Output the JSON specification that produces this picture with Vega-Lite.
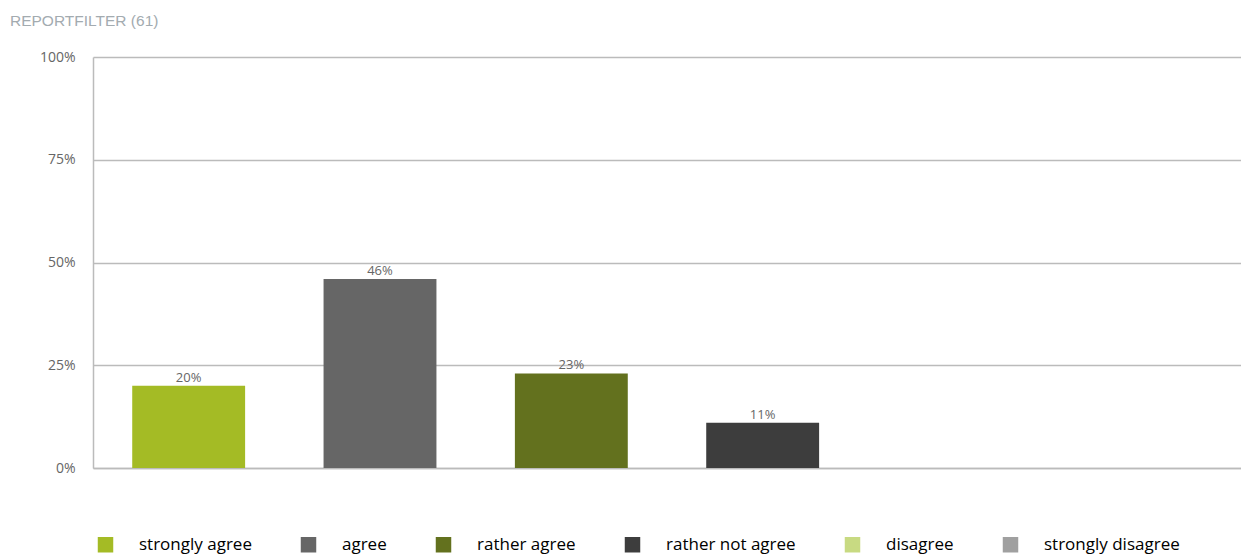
{
  "$schema": "https://vega.github.io/schema/vega-lite/v6.json",
  "width": 1148,
  "height": 411,
  "autosize": {"type": "none"},
  "padding": {"left": 93, "top": 57, "right": 0, "bottom": 91},
  "background": "white",
  "title": {
    "text": "REPORTFILTER (61)",
    "anchor": "start",
    "frame": "group",
    "dx": -83,
    "offset": 21,
    "font": "Liberation Sans",
    "fontSize": 15.5,
    "fontWeight": "normal",
    "color": "#a3abb0"
  },
  "config": {
    "view": {"stroke": null},
    "axis": {"labelFont": "Open Sans", "labelColor": "#666666", "labelFontSize": 14}
  },
  "data": {
    "values": [
      {"answer": "strongly agree", "value": 20},
      {"answer": "agree", "value": 46},
      {"answer": "rather agree", "value": 23},
      {"answer": "rather not agree", "value": 11},
      {"answer": "disagree", "value": 0},
      {"answer": "strongly disagree", "value": 0}
    ]
  },
  "encoding": {
    "x": {
      "field": "answer",
      "type": "nominal",
      "sort": null,
      "scale": {"paddingInner": 0.41, "paddingOuter": 0.205},
      "axis": {"labels": false, "ticks": false, "title": null, "domain": true, "domainColor": "#bbbbbb", "domainWidth": 1.5}
    },
    "y": {
      "field": "value",
      "type": "quantitative",
      "scale": {"domain": [0, 100]},
      "axis": {
        "values": [0, 25, 50, 75, 100],
        "labelExpr": "datum.value + '%'",
        "title": null,
        "ticks": false,
        "labelPadding": 18,
        "domainColor": "#bbbbbb",
        "domainWidth": 1.5,
        "gridColor": "#bbbbbb",
        "gridWidth": 1.5
      }
    }
  },
  "layer": [
    {
      "mark": {"type": "bar"},
      "encoding": {
        "color": {
          "field": "answer",
          "type": "nominal",
          "sort": null,
          "scale": {
            "domain": ["strongly agree", "agree", "rather agree", "rather not agree", "disagree", "strongly disagree"],
            "range": ["#a4bb25", "#666666", "#63711e", "#3d3d3d", "#c8da82", "#a0a0a0"]
          },
          "legend": {
            "title": null,
            "orient": "none",
            "direction": "horizontal",
            "legendX": 4,
            "legendY": 479,
            "symbolType": "square",
            "symbolSize": 240,
            "symbolStrokeWidth": 0,
            "symbolOpacity": 1,
            "labelFont": "Open Sans",
            "labelFontSize": 17,
            "labelColor": "#000000",
            "labelOffset": 25,
            "labelLimit": 300,
            "columnPadding": 48
          }
        }
      }
    },
    {
      "transform": [{"filter": "datum.value > 0"}],
      "mark": {
        "type": "text",
        "baseline": "bottom",
        "dy": -1,
        "font": "Open Sans",
        "fontSize": 13,
        "color": "#666666",
        "text": {"expr": "datum.value + '%'"}
      }
    }
  ]
}
